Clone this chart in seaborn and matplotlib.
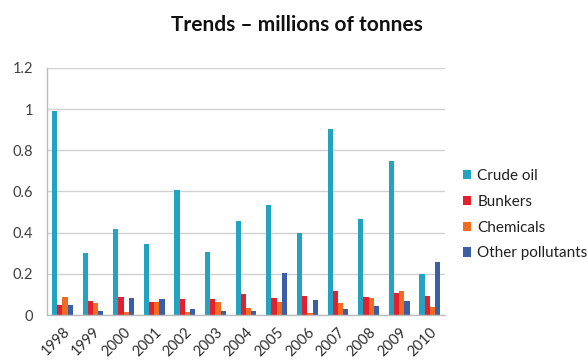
import numpy as np
import pandas as pd
import matplotlib
matplotlib.use("Agg")
import matplotlib.pyplot as plt
import seaborn as sns

years = ["1998", "1999", "2000", "2001", "2002", "2003", "2004",
         "2005", "2006", "2007", "2008", "2009", "2010"]
crude_oil = [0.99, 0.30, 0.42, 0.345, 0.605, 0.305, 0.455, 0.535, 0.40, 0.905, 0.467, 0.75, 0.20]
bunkers = [0.05, 0.068, 0.088, 0.063, 0.077, 0.076, 0.104, 0.085, 0.091, 0.115, 0.089, 0.106, 0.094]
chemicals = [0.088, 0.058, 0.015, 0.063, 0.013, 0.065, 0.033, 0.063, 0.012, 0.06, 0.085, 0.117, 0.037]
other_pollutants = [0.05, 0.02, 0.083, 0.077, 0.031, 0.02, 0.018, 0.203, 0.075, 0.029, 0.044, 0.067, 0.26]

series_names = ["Crude oil", "Bunkers", "Chemicals", "Other pollutants"]
series_colors = ["#22A3C2", "#E3202B", "#F26B21", "#3A5FA8"]

df = pd.DataFrame({
    "year": years * 4,
    "type": sum([[n] * len(years) for n in series_names], []),
    "value": crude_oil + bunkers + chemicals + other_pollutants,
})

sns.set_theme(style="white")
plt.rcParams["font.family"] = ["Lato", "DejaVu Sans"]

fig = plt.figure(figsize=(5.88, 3.63), dpi=100)
ax = fig.add_axes([0.080, 0.132, 0.677, 0.681])

sns.barplot(data=df, x="year", y="value", hue="type", hue_order=series_names,
            palette=series_colors, width=0.68, saturation=1, ax=ax, errorbar=None)
for p in ax.patches:
    p.set_edgecolor("none")

ax.set_ylim(0, 1.2)
ax.set_xlim(-0.5, len(years) - 0.5)
ax.set_yticks([0, 0.2, 0.4, 0.6, 0.8, 1.0, 1.2])
ax.set_yticklabels(["0", "0.2", "0.4", "0.6", "0.8", "1", "1.2"])
ax.yaxis.grid(True, color="#D0D0D0", linewidth=1)
ax.set_axisbelow(True)

for side in ["top", "right"]:
    ax.spines[side].set_visible(False)
for side in ["left", "bottom"]:
    ax.spines[side].set_color("#BDBDBD")
    ax.spines[side].set_linewidth(1)

ax.set_xlabel("")
ax.set_ylabel("")
ax.set_xticks(range(len(years)))
ax.set_xticklabels(years, rotation=45, ha="right", rotation_mode="anchor",
                   fontsize=10.5, color="#303030")
ax.set_xticks(np.arange(-0.5, len(years), 1.0), minor=True)
ax.tick_params(axis="x", which="major", length=0, pad=7)
ax.tick_params(axis="x", which="minor", length=4, color="#BDBDBD", width=1)
ax.tick_params(axis="y", which="major", length=4, color="#BDBDBD", width=1,
               labelsize=10.5, labelcolor="#404040", pad=6)

fig.text(297 / 588, 1 - 31 / 363, "Trends \u2013 millions of tonnes",
         fontsize=15, fontweight="bold", color="#111111",
         ha="center", va="baseline")

ax.legend(loc="center left", bbox_to_anchor=(1.01, 0.406), frameon=False,
          fontsize=11, handlelength=0.55, handleheight=0.55, handletextpad=0.4,
          labelspacing=0.77, labelcolor="#202020")

fig.savefig("out.png", dpi=100)
